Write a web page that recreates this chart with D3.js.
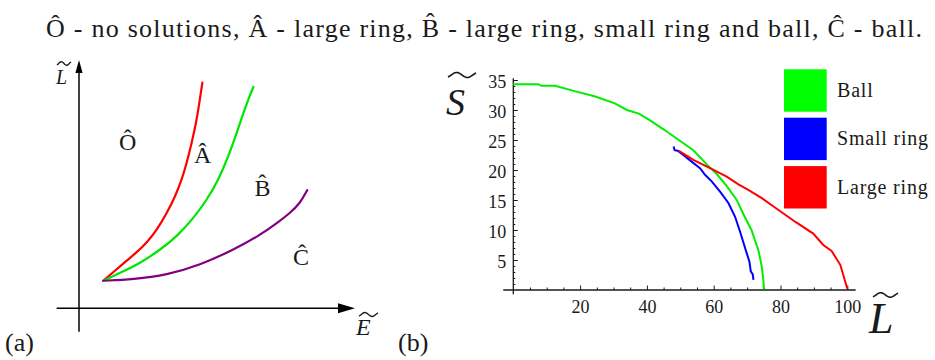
<!DOCTYPE html>
<html>
<head>
<meta charset="utf-8">
<script src="https://cdn.jsdelivr.net/npm/d3@7"></script>
<style>
  body { margin: 0; background: #fff; }
  svg { display: block; }
</style>
</head>
<body>
<svg id="chart" width="935" height="360"></svg>
<script>
// ---------------- data ----------------
const titleText = "Ô - no solutions, Â - large ring, B\u0302 - large ring, small ring and ball, Ĉ - ball.";

// (a) region boundaries in the (E, L) plane, schematic units
const edgeOA = [[0.88,1.11],[1.30,1.51],[1.73,1.92],[2.15,2.31],[2.45,2.64],[2.82,3.15],[3.18,3.83],
                [3.48,4.49],[3.72,5.17],[3.90,5.84],[4.08,6.65],[4.24,7.45],[4.36,8.26],[4.47,9.09]];
const edgeAB = [[0.88,1.11],[1.49,1.43],[2.21,1.81],[2.93,2.35],[3.54,2.88],[4.14,3.62],[4.63,4.36],
                [5.05,5.17],[5.41,6.11],[5.71,7.05],[5.95,7.85],[6.17,8.52],[6.32,8.92]];
const edgeBC = [[0.88,1.11],[1.97,1.17],[3.18,1.34],[4.38,1.74],[5.59,2.35],[6.56,2.95],[7.16,3.42],
                [7.64,3.83],[8.01,4.23],[8.27,4.76]];
const regionNames = ["Ô", "Â", "B\u0302", "Ĉ"];
const edgeColors = ["#ff0000", "#00e600", "#800080"];

// (b) entropy S against angular momentum L
const ballS = [[0,34.3],[7.4,34.3],[8.4,34.05],[12.5,34.05],[18.6,33.1],[24.3,32.3],[30.4,31.1],[34.0,30.0],
               [37.6,29.4],[40.6,28.4],[45.2,26.7],[48.8,25.3],[53.9,23.3],[58.0,20.9],[61.1,19.2],
               [63.8,17.4],[66.8,15.1],[69.2,12.3],[71.3,10.0],[73.4,6.6],[74.4,3.9],[74.9,1.5],[75.0,0.1]];
const smallRingS = [[48.0,23.9],[48.3,23.3],[49.2,23.2],[50.9,22.5],[53.4,21.4],[55.9,20.3],[57.4,19.2],
                    [59.4,18.1],[61.9,16.4],[64.4,14.5],[66.4,12.2],[67.9,9.7],[69.4,7.0],[70.7,4.7],
                    [71.1,3.1],[71.7,2.6],[71.9,1.7]];
const largeRingS = [[49.6,23.2],[53.9,21.7],[58.9,20.3],[63.9,18.9],[67.4,17.6],[70.6,16.6],[74.4,15.3],
                    [79.5,13.3],[84.6,11.3],[89.8,9.4],[92.8,7.5],[95.3,6.5],[97.9,4.2],[100,0.2]];
const seriesNames = ["Ball", "Small ring", "Large ring"];
const seriesColors = ["#00ee00", "#0000ff", "#ff0000"];
const xTicks = [20, 40, 60, 80, 100];
const yTicks = [5, 10, 15, 20, 25, 30, 35];

// ---------------- drawing ----------------
const SERIF = "'Liberation Serif'";
const INK = "#1a1a1a";
const svg = d3.select("#chart");

function label(g, x, y, size, str) {
  return g.append("text").attr("x", x).attr("y", y)
    .style("font-family", SERIF).style("font-size", size + "px").attr("fill", INK).text(str);
}

// wide tilde accent drawn as a path
function tilde(g, x0, x1, yMid, amp, sw) {
  const pts = d3.range(0, 1.0001, 0.05).map(t => {
    const u = -0.15 + 1.3 * t;
    return [x0 + (x1 - x0) * t, yMid - amp * Math.sin(2 * Math.PI * u)];
  });
  g.append("path").attr("d", d3.line().curve(d3.curveBasis)(pts))
    .attr("fill", "none").attr("stroke", INK).attr("stroke-width", sw);
}

label(svg, 46, 36.5, 26, titleText)
  .attr("textLength", 876).attr("lengthAdjust", "spacing");

// ----- panel (a) -----
const gA = svg.append("g");
const xA = d3.scaleLinear().domain([0, 10]).range([79, 355]);
const yA = d3.scaleLinear().domain([0, 10]).range([308.3, 60]);

gA.append("line").attr("x1", xA(-0.81)).attr("x2", xA(10) - 14)
  .attr("y1", yA(0)).attr("y2", yA(0)).attr("stroke", "#000").attr("stroke-width", 1.5);
gA.append("path")
  .attr("d", `M${xA(10)},${yA(0)} L${xA(10) - 17},${yA(0) - 5} L${xA(10) - 17},${yA(0) + 5} Z`)
  .attr("fill", "#000");
gA.append("line").attr("x1", xA(0)).attr("x2", xA(0))
  .attr("y1", yA(-0.94)).attr("y2", yA(10) + 10).attr("stroke", "#000").attr("stroke-width", 1.5);
gA.append("path")
  .attr("d", `M${xA(0)},${yA(10)} L${xA(0) - 3.6},${yA(10) + 13} L${xA(0) + 3.6},${yA(10) + 13} Z`)
  .attr("fill", "#000");

const lineA = d3.line().x(d => xA(d[0])).y(d => yA(d[1])).curve(d3.curveBasis);
[edgeOA, edgeAB, edgeBC].forEach((edge, i) => {
  gA.append("path").datum(edge).attr("d", lineA)
    .attr("fill", "none").attr("stroke", edgeColors[i]).attr("stroke-width", 2.2)
    .attr("stroke-linecap", "round");
});

// region names, anchored in (E, L) units
const regionAnchors = [[1.76, 6.38], [4.48, 5.85], [6.65, 4.53], [8.04, 1.74]];
regionNames.forEach((name, i) => {
  label(gA, xA(regionAnchors[i][0]), yA(regionAnchors[i][1]), 24, name)
    .attr("text-anchor", "middle");
});

// axis names
label(gA, 56, 84, 20, "L").style("font-style", "italic");
tilde(gA, 57, 71, 63.5, 1.8, 1.3);
label(gA, 356, 335, 24, "E").style("font-style", "italic");
tilde(gA, 359, 378, 314.5, 2, 1.4);
label(svg, 5, 351, 26, "(a)");

// ----- panel (b) -----
const gB = svg.append("g");
const xB = d3.scaleLinear().domain([0, 100]).range([513.3, 847.3]);
const yB = d3.scaleLinear().domain([0, 35]).range([290, 80]);

// minor ticks
gB.append("g").attr("transform", `translate(0,${yB(0)})`)
  .call(d3.axisBottom(xB).tickValues(d3.range(5, 101, 5).filter(v => v % 20 !== 0))
    .tickSizeInner(-2.5).tickSizeOuter(0).tickFormat(""))
  .call(g => g.select(".domain").remove());
gB.append("g").attr("transform", `translate(${xB(0)},0)`)
  .call(d3.axisLeft(yB).tickValues(d3.range(1, 36).filter(v => v % 5 !== 0))
    .tickSizeInner(-2).tickSizeOuter(0).tickFormat(""))
  .call(g => g.select(".domain").remove());

// major ticks and labels
const axX = gB.append("g").attr("transform", `translate(0,${yB(0)})`)
  .call(d3.axisBottom(xB).tickValues(xTicks).tickSizeInner(-4.5).tickSizeOuter(0).tickPadding(10.5))
  .call(g => g.select(".domain").remove());
const axY = gB.append("g").attr("transform", `translate(${xB(0)},0)`)
  .call(d3.axisLeft(yB).tickValues(yTicks).tickSizeInner(-4.5).tickSizeOuter(0).tickPadding(7))
  .call(g => g.select(".domain").remove());
[axX, axY].forEach(ax => {
  ax.selectAll(".tick text").style("font-family", SERIF).style("font-size", "18px")
    .attr("fill", INK);
});
axY.selectAll(".tick text").attr("dy", "0.42em");
gB.selectAll(".tick line").attr("stroke", INK).attr("stroke-width", 1);

gB.append("line").attr("x1", xB(-3)).attr("x2", xB(102.5))
  .attr("y1", yB(0)).attr("y2", yB(0)).attr("stroke", INK).attr("stroke-width", 1.3);
gB.append("line").attr("x1", xB(0)).attr("x2", xB(0))
  .attr("y1", yB(-0.7)).attr("y2", yB(35.3)).attr("stroke", INK).attr("stroke-width", 1.3);

const lineB = d3.line().x(d => xB(d[0])).y(d => yB(d[1]));
[ballS, smallRingS, largeRingS].forEach((s, i) => {
  gB.append("path").datum(s).attr("d", lineB)
    .attr("fill", "none").attr("stroke", seriesColors[i]).attr("stroke-width", 2);
});

// legend
const legendColors = ["#00ff00", "#0000ff", "#ff0000"];
seriesNames.forEach((name, i) => {
  const y0 = 69.3 + i * 48.4;
  gB.append("rect").attr("x", 784).attr("y", y0).attr("width", 42.7).attr("height", 42.4)
    .attr("fill", legendColors[i]);
  label(gB, 837, y0 + 27.5, 20, name).style("letter-spacing", "0.8px");
});

// axis names
label(gB, 446, 115, 38, "S").style("font-style", "italic");
tilde(gB, 448, 476, 75, 2.6, 1.6);
label(gB, 869, 333, 44, "L").style("font-style", "italic");
tilde(gB, 873, 898, 295, 2.3, 1.6);
label(svg, 398, 351, 26, "(b)");
</script>
</body>
</html>
